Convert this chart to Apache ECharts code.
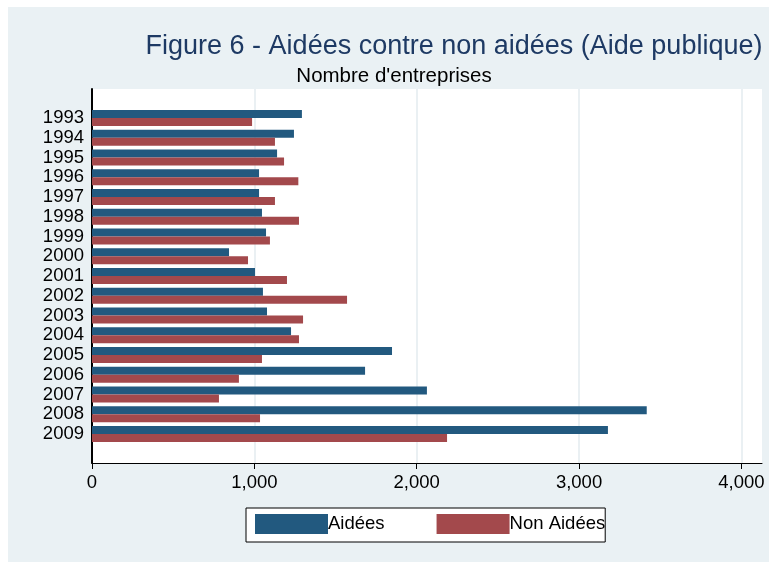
<!DOCTYPE html>
<html>
<head>
<meta charset="utf-8">
<script src="https://cdn.jsdelivr.net/npm/echarts@6/dist/echarts.min.js"></script>
<style>
html,body{margin:0;padding:0;background:#fff;}
#bg{position:absolute;left:8px;top:7px;width:761px;height:555px;background:#eaf1f4;}
#chart{position:absolute;left:0;top:0;width:769px;height:562px;}
</style>
</head>
<body>
<div id="bg"></div>
<div id="chart"></div>
<script>
const years = ['1993','1994','1995','1996','1997','1998','1999','2000','2001','2002','2003','2004','2005','2006','2007','2008','2009'];
const aidees = [1293,1244,1140,1029,1029,1047,1072,844,1004,1053,1078,1226,1848,1682,2063,3417,3178];
const nonAidees = [986,1127,1183,1271,1127,1275,1096,961,1201,1571,1300,1275,1047,905,782,1035,2187];
const seriesNames = ['Aidées','Non Aidées'];
const xTicks = [0,1000,2000,3000,4000];
const titleText = 'Figure 6 - Aidées contre non aidées (Aide publique)';
const subtitleText = "Nombre d'entreprises";

const FONT = '"Liberation Sans", Arial, sans-serif';
const X_MAX = 4127;
const fmt = v => xTicks.indexOf(v) >= 0 ? v.toLocaleString('en-US') : '';

const chart = echarts.init(document.getElementById('chart'), null, {renderer:'canvas'});
chart.setOption({
  backgroundColor: 'transparent',
  animation: false,
  textStyle: {fontFamily: FONT},
  title: [
    {text: titleText, left: 454, top: 33, textAlign: 'center', padding: 0,
     textStyle: {fontFamily: FONT, fontSize: 27, fontWeight: 'normal', color: '#1e3a64'}},
    {text: subtitleText, left: 394, top: 66, textAlign: 'center', padding: 0,
     textStyle: {fontFamily: FONT, fontSize: 20.5, fontWeight: 'normal', color: '#000'}}
  ],
  legend: {
    left: 246, top: 508,
    padding: [6, 0, 8, 9],
    backgroundColor: '#fff',
    borderColor: '#000', borderWidth: 1,
    itemWidth: 73, itemHeight: 20, itemGap: 52,
    icon: 'rect',
    data: seriesNames,
    textStyle: {fontFamily: FONT, fontSize: 18.5, color: '#000', padding: [0,0,0,-5]}
  },
  grid: [
    {left: 92, right: 7, top: 89, bottom: 99, show: true, backgroundColor: '#fff', borderWidth: 0},
    {left: 92, right: 7, top: 108, bottom: 118}
  ],
  xAxis: [
    {gridIndex: 0, type: 'value', min: 0, max: X_MAX,
     axisLine: {show: true, onZero: false, lineStyle: {color: '#000', width: 1}},
     axisTick: {show: true, length: 6, customValues: xTicks, lineStyle: {color: '#000', width: 1}},
     axisLabel: {show: true, customValues: xTicks, formatter: fmt, margin: 10, fontFamily: FONT, fontSize: 18.5, color: '#000'},
     splitLine: {show: true, lineStyle: {color: '#e3ebef', width: 1.5}}},
    {gridIndex: 1, type: 'value', min: 0, max: X_MAX, show: false}
  ],
  yAxis: [
    {gridIndex: 0, type: 'value', min: 0, max: 1,
     axisLine: {show: true, lineStyle: {color: '#000', width: 2}},
     axisTick: {show: false}, axisLabel: {show: false}, splitLine: {show: false}},
    {gridIndex: 1, type: 'category', data: years, inverse: true,
     axisLine: {show: false}, axisTick: {show: false}, splitLine: {show: false},
     axisLabel: {interval: 0, margin: 8, fontFamily: FONT, fontSize: 18.5, color: '#000'}}
  ],
  series: [
    {name: seriesNames[0], type: 'bar', xAxisIndex: 1, yAxisIndex: 1, data: aidees,
     barWidth: 8, barGap: '0%', itemStyle: {color: '#22597f'}},
    {name: seriesNames[1], type: 'bar', xAxisIndex: 1, yAxisIndex: 1, data: nonAidees,
     barWidth: 8, barGap: '0%', itemStyle: {color: '#a3494c'}}
  ]
});
</script>
</body>
</html>
